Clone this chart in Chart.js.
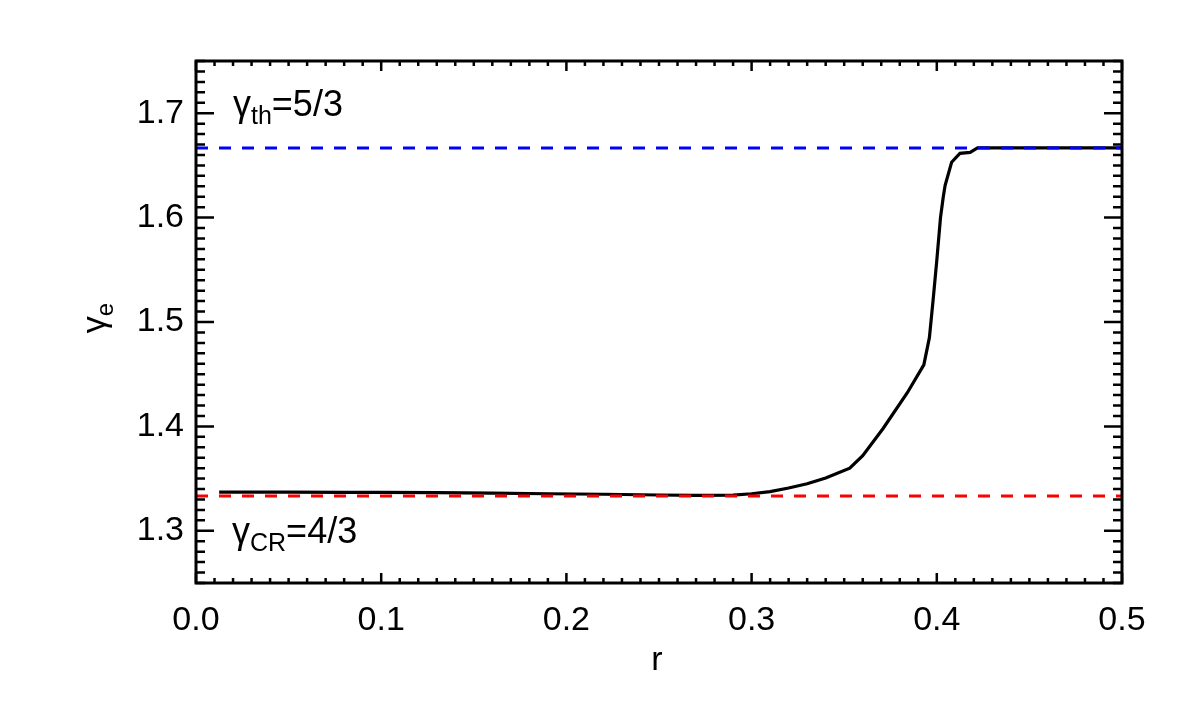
<!DOCTYPE html>
<html>
<head>
<meta charset="utf-8">
<script src="https://cdn.jsdelivr.net/npm/chart.js@4.4.0/dist/chart.umd.min.js"></script>
<style>
  html, body { margin: 0; padding: 0; background: #fff; }
  canvas { display: block; }
</style>
</head>
<body>
<canvas id="gammaChart" width="1180" height="709"></canvas>
<script>
// radius values and effective adiabatic index
const rValues = [0.0125, 0.03, 0.05, 0.08, 0.10, 0.13, 0.16, 0.19, 0.22, 0.25, 0.27, 0.29,
  0.30, 0.31, 0.32, 0.33, 0.34, 0.353, 0.360, 0.371, 0.384, 0.393, 0.396, 0.398,
  0.400, 0.402, 0.4035, 0.4045, 0.408, 0.4125, 0.418, 0.422, 0.45, 0.50];
const gammaValues = [1.3370, 1.3370, 1.3370, 1.3369, 1.3368, 1.3366, 1.3360, 1.3355, 1.3350, 1.3343, 1.3340, 1.3342,
  1.3355, 1.3375, 1.3410, 1.3450, 1.3505, 1.3600, 1.3720, 1.3980, 1.4320, 1.4590, 1.4850, 1.5210,
  1.5590, 1.6000, 1.6200, 1.6310, 1.6530, 1.6615, 1.6625, 1.6667, 1.6667, 1.6667];

// reference levels
const gammaTh = 5 / 3;
const gammaCR = 4 / 3;
const refX = [0, 0.5];

const xTicks = [0.0, 0.1, 0.2, 0.3, 0.4, 0.5];
const yTicks = [1.3, 1.4, 1.5, 1.6, 1.7];

const FONT = '"Liberation Sans", Arial, Helvetica, sans-serif';

function toPoints(xs, ys) {
  return xs.map((x, i) => ({ x: x, y: ys[i] }));
}

// inward IDL-style ticks, frame box and the text annotations
const idlFrame = {
  id: 'idlFrame',
  afterDraw(chart) {
    const ctx = chart.ctx;
    const a = chart.chartArea;
    const xs = chart.scales.x;
    const ys = chart.scales.y;
    ctx.save();
    ctx.strokeStyle = '#000';
    ctx.lineWidth = 2.5;
    ctx.beginPath();
    for (let i = 0; i <= 50; i++) {
      const px = xs.getPixelForValue(i / 100);
      const len = i % 10 === 0 ? 10 : 5;
      ctx.moveTo(px, a.bottom); ctx.lineTo(px, a.bottom - len);
      ctx.moveTo(px, a.top); ctx.lineTo(px, a.top + len);
    }
    for (let i = 125; i <= 175; i++) {
      const py = ys.getPixelForValue(i / 100);
      const len = i % 10 === 0 ? 18 : 9;
      ctx.moveTo(a.left, py); ctx.lineTo(a.left + len, py);
      ctx.moveTo(a.right, py); ctx.lineTo(a.right - len, py);
    }
    ctx.stroke();
    ctx.lineWidth = 3;
    ctx.strokeRect(a.left, a.top, a.right - a.left, a.bottom - a.top);

    // subscripted labels
    function subLabel(x, y, main, sub, rest) {
      ctx.textAlign = 'left';
      ctx.textBaseline = 'alphabetic';
      ctx.font = '36px ' + FONT;
      ctx.fillText(main, x, y);
      let w = ctx.measureText(main).width;
      ctx.font = '25px ' + FONT;
      ctx.fillText(sub, x + w, y + 8);
      w += ctx.measureText(sub).width;
      ctx.font = '36px ' + FONT;
      ctx.fillText(rest, x + w, y);
    }
    ctx.fillStyle = '#000';
    subLabel(233, 116, 'γ', 'th', '=5/3');
    subLabel(232, 543, 'γ', 'CR', '=4/3');

    // x title
    ctx.font = '34px ' + FONT;
    ctx.textAlign = 'center';
    ctx.textBaseline = 'alphabetic';
    ctx.fillText('r', 657, 670);

    // y title, rotated
    ctx.translate(105, 318);
    ctx.rotate(-Math.PI / 2);
    ctx.textAlign = 'left';
    ctx.font = '34px ' + FONT;
    const gw = ctx.measureText('γ').width;
    ctx.font = '24px ' + FONT;
    const ew = ctx.measureText('e').width;
    const start = -(gw + ew) / 2;
    ctx.font = '34px ' + FONT;
    ctx.fillText('γ', start, 0);
    ctx.font = '24px ' + FONT;
    ctx.fillText('e', start + gw, 8);
    ctx.restore();
  }
};

const gammaChartData = {
  type: 'line',
  data: {
    datasets: [
      {
        label: 'gamma_th',
        data: toPoints(refX, [gammaTh, gammaTh]),
        borderColor: '#0000ff',
        borderWidth: 3,
        borderDash: [12, 11],
        pointRadius: 0,
        order: 0
      },
      {
        label: 'gamma_CR',
        data: toPoints(refX, [gammaCR, gammaCR]),
        borderColor: '#ff0000',
        borderWidth: 3,
        borderDash: [12, 11],
        pointRadius: 0,
        order: 1
      },
      {
        label: 'gamma_e',
        data: toPoints(rValues, gammaValues),
        borderColor: '#000000',
        borderWidth: 3.2,
        pointRadius: 0,
        tension: 0,
        order: 2
      }
    ]
  },
  options: {
    responsive: false,
    animation: false,
    layout: { padding: { left: 0, right: 58, top: 61, bottom: 0 } },
    plugins: {
      legend: { display: false },
      tooltip: { enabled: false }
    },
    scales: {
      x: {
        type: 'linear',
        min: 0,
        max: 0.5,
        afterFit: s => { s.height = 126; },
        afterBuildTicks: s => { s.ticks = xTicks.map(v => ({ value: v })); },
        grid: { display: false, drawTicks: false },
        border: { display: false },
        ticks: {
          color: '#000',
          padding: 17,
          maxRotation: 0,
          font: { family: FONT, size: 34 },
          callback: v => v.toFixed(1)
        }
      },
      y: {
        type: 'linear',
        min: 1.25,
        max: 1.75,
        afterFit: s => { s.width = 196; },
        afterBuildTicks: s => { s.ticks = yTicks.map(v => ({ value: v })); },
        grid: { display: false, drawTicks: false },
        border: { display: false },
        ticks: {
          color: '#000',
          padding: 12,
          font: { family: FONT, size: 34 },
          callback: v => v.toFixed(1)
        }
      }
    }
  },
  plugins: [idlFrame]
};

window.onload = function() {
  const ctx = document.getElementById('gammaChart').getContext('2d');
  const gammaChart = new Chart(ctx, gammaChartData);
};
</script>
</body>
</html>
